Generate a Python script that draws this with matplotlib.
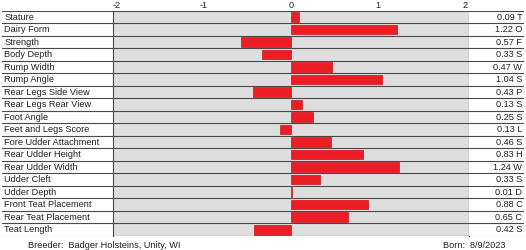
import matplotlib
matplotlib.use("Agg")
import matplotlib.pyplot as plt
import numpy as np

plt.rcParams['font.family'] = ['Liberation Sans', 'DejaVu Sans']

# Trait data
traits = ["Stature", "Dairy Form", "Strength", "Body Depth", "Rump Width",
          "Rump Angle", "Rear Legs Side View", "Rear Legs Rear View",
          "Foot Angle", "Feet and Legs Score", "Fore Udder Attachment",
          "Rear Udder Height", "Rear Udder Width", "Udder Cleft",
          "Udder Depth", "Front Teat Placement", "Rear Teat Placement",
          "Teat Length"]
values = [0.09, 1.22, -0.57, -0.33, 0.47, 1.04, -0.43, 0.13, 0.25, -0.13,
          0.46, 0.83, 1.24, 0.33, 0.01, 0.88, 0.65, -0.42]
letters = ["T", "O", "F", "S", "W", "S", "P", "S", "S", "L",
           "S", "H", "W", "S", "D", "C", "C", "S"]
ticks = [-2, -1, 0, 1, 2]
breeder = "Badger Holsteins, Unity, WI"
born = "8/9/2023"

W, H = 526, 250
fig = plt.figure(figsize=(W / 100, H / 100), dpi=100)

top_px, bot_px = 11, 236
y0 = 1 - bot_px / H
hgt = (bot_px - top_px) / H

ax_lab = fig.add_axes([2 / W, y0, (113 - 2) / W, hgt])
ax = fig.add_axes([113 / W, y0, (469 - 113) / W, hgt])
ax_val = fig.add_axes([469 / W, y0, (524 - 469) / W, hgt])

n = len(traits)
y = np.arange(n)
line_col = "#4a4a4a"

for a in (ax_lab, ax, ax_val):
    a.set_ylim(n - 0.5, -0.5)
    a.set_yticks([])
    for i in range(n + 1):
        a.axhline(i - 0.5, color=line_col, lw=0.8, zorder=3)
    for s in a.spines.values():
        s.set_visible(False)

# main bar panel
ax.set_facecolor("#dedede")
ax.barh(y, values, height=0.76, color="#ee1c24", edgecolor="#d01018",
        linewidth=0.5, zorder=2)
ax.set_xlim(-2.04, 2.04)
ax.xaxis.tick_top()
ax.set_xticks(ticks)
ax.set_xticklabels([str(t) for t in ticks], fontsize=6.6, color="#222222")
ax.tick_params(axis="x", length=0, pad=1)
for side in ("left", "right"):
    ax.spines[side].set_visible(True)
    ax.spines[side].set_color(line_col)
    ax.spines[side].set_linewidth(0.8)

# label column
ax_lab.set_xlim(0, 1)
ax_lab.set_xticks([])
for i, t in enumerate(traits):
    ax_lab.text(0.02, i, t, va="center", ha="left", fontsize=6.6, color="#222222")

# value column
ax_val.set_xlim(0, 1)
ax_val.set_xticks([])
for i, (v, l) in enumerate(zip(values, letters)):
    ax_val.text(0.97, i, f"{abs(v):.2f} {l}", va="center", ha="right",
                fontsize=6.6, color="#222222")

fig.text(28 / W, 1 - 245 / H, f"Breeder:  {breeder}", fontsize=6.6,
         color="#222222", va="center", ha="left")
fig.text(443 / W, 1 - 245 / H, f"Born:  {born}", fontsize=6.6,
         color="#222222", va="center", ha="left")

fig.savefig("out.png", dpi=100)
